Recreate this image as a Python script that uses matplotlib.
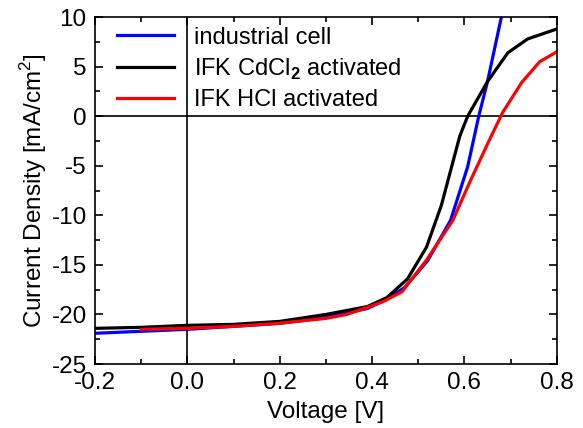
import matplotlib.pyplot as plt
from matplotlib.ticker import MultipleLocator

plt.rcParams['font.family'] = ['Liberation Sans', 'DejaVu Sans']
plt.rcParams['mathtext.fontset'] = 'custom'
plt.rcParams['mathtext.rm'] = 'Liberation Sans'
plt.rcParams['mathtext.bf'] = 'Liberation Sans:bold'
plt.rcParams['axes.unicode_minus'] = False

# J-V curves
v_ind = [-0.2, -0.1, 0.0, 0.1, 0.2, 0.3, 0.39, 0.43, 0.47, 0.52, 0.57, 0.607, 0.631, 0.65, 0.68]
j_ind = [-21.9, -21.7, -21.5, -21.2, -20.9, -20.3, -19.4, -18.5, -17.3, -14.6, -10.5, -5.1, 0.0, 3.5, 10.0]

v_cdcl = [-0.2, -0.1, 0.0, 0.1, 0.2, 0.3, 0.39, 0.432, 0.477, 0.518, 0.55, 0.59, 0.607, 0.65, 0.694, 0.737, 0.8]
j_cdcl = [-21.4, -21.3, -21.1, -21.0, -20.7, -20.0, -19.2, -18.3, -16.4, -13.2, -9.0, -2.0, 0.0, 3.5, 6.4, 7.8, 8.8]

v_hcl = [-0.1, 0.0, 0.1, 0.195, 0.3, 0.345, 0.395, 0.424, 0.465, 0.518, 0.575, 0.612, 0.651, 0.683, 0.724, 0.763, 0.8]
j_hcl = [-21.5, -21.4, -21.2, -20.9, -20.4, -20.0, -19.2, -18.7, -17.7, -14.5, -10.5, -6.6, -2.7, 0.4, 3.4, 5.5, 6.5]

fig = plt.figure(figsize=(5.83, 4.28), dpi=100)
ax = fig.add_axes([0.163, 0.1495, 0.792, 0.8105])

ax.axhline(0, color='black', lw=1.2, zorder=1)
ax.axvline(0, color='black', lw=1.2, zorder=1)

ax.plot(v_ind, j_ind, color='#0000ff', lw=2.3, label='industrial cell')
ax.plot(v_cdcl, j_cdcl, color='black', lw=2.3, label=r'IFK CdCl$_{\mathbf{2}}$ activated')
ax.plot(v_hcl, j_hcl, color='#ff0000', lw=2.3, label='IFK HCl activated')

ax.set_xlim(-0.2, 0.8)
ax.set_ylim(-25, 10)
ax.xaxis.set_major_locator(MultipleLocator(0.2))
ax.xaxis.set_minor_locator(MultipleLocator(0.1))
ax.yaxis.set_major_locator(MultipleLocator(5))
ax.yaxis.set_minor_locator(MultipleLocator(2.5))
ax.tick_params(which='both', direction='in', top=True, right=True, width=1.2, labelsize=17.5)
ax.tick_params(which='major', length=6, pad=6)
ax.tick_params(which='minor', length=3.5)
for s in ax.spines.values():
    s.set_linewidth(1.2)

ax.set_xlabel('Voltage [V]', fontsize=17.5, labelpad=5)
ax.set_ylabel(r'Current Density [mA/cm$^2$]', fontsize=17.5, labelpad=2)

ax.legend(loc='upper left', frameon=False, fontsize=17, handlelength=2.4,
          handletextpad=0.85, labelspacing=0.33, borderaxespad=0.0,
          bbox_to_anchor=(0.027, 1.0))

fig.savefig('out.png', dpi=100)
